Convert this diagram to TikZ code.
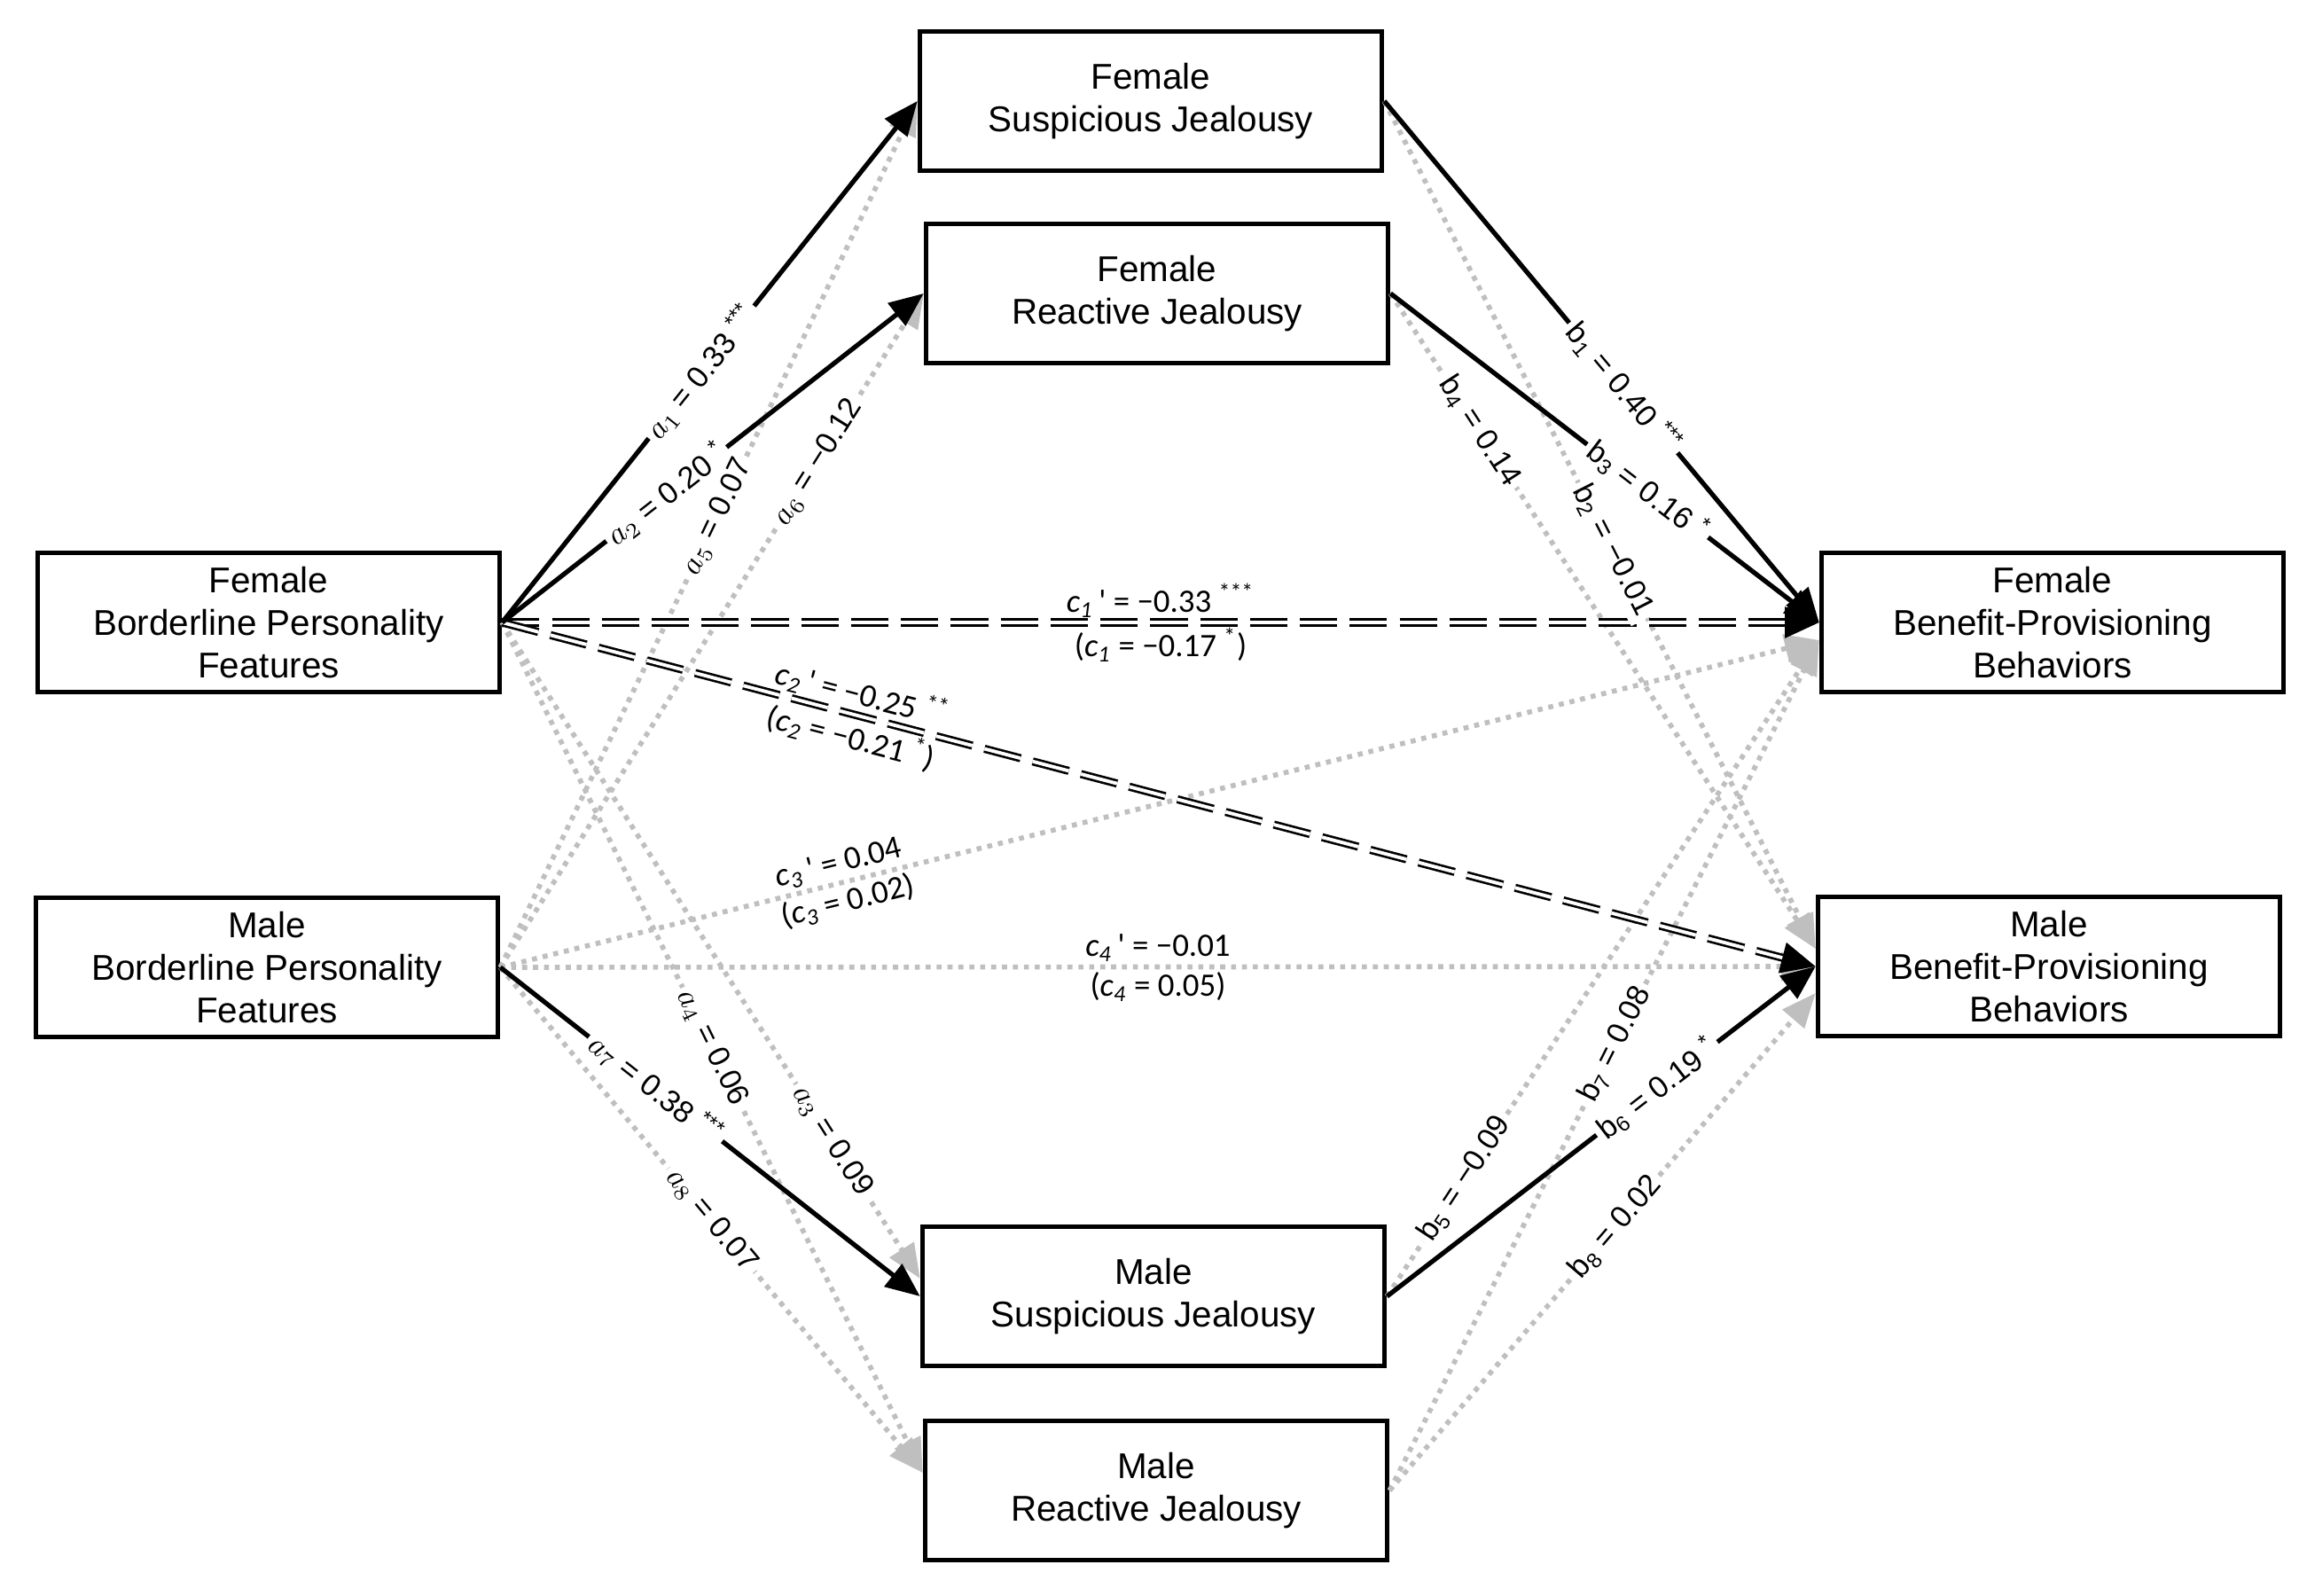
\documentclass[tikz,border=0pt]{standalone}
\usepackage{fontspec}
\setmainfont{Liberation Sans}
\newfontfamily\clabfamily{Carlito}
\usetikzlibrary{arrows.meta}
\definecolor{nsgray}{RGB}{191,191,191}
\tikzset{
    box/.style={draw, line width=1.6pt, minimum width=5.21cm, minimum height=1.57cm, align=center, font=\fontsize{11.5}{13.7}\selectfont},
    sig/.style={line width=1.5pt, -{Triangle[length=11pt,width=9pt]}},
    ns/.style={nsgray, line width=1.6pt, dash pattern=on 1.6pt off 1.9pt, -{Triangle[length=11pt,width=9pt]}},
    direct/.style={line width=0.75pt, double distance=1.1pt, dash pattern=on 12pt off 4pt, -{Triangle[length=11pt,width=10pt]}},
    lab/.style={sloped, fill=white, inner sep=1.5pt, text=black, font=\fontsize{9.8}{11}\selectfont},
    clab/.style={sloped, inner sep=1.5pt, text=black, font=\clabfamily\fontsize{10.5}{12}\selectfont}
}
\begin{document}
\begin{tikzpicture}
    \useasboundingbox (0,0) rectangle (26.02,-17.99);
    % boxes
    \node[box] (fbpf) at (3.03,-7.02) {Female\\Borderline Personality\\Features};
    \node[box] (mbpf) at (3.01,-10.91) {Male\\Borderline Personality\\Features};
    \node[box] (fsj) at (12.98,-1.14) {Female\\Suspicious Jealousy};
    \node[box] (frj) at (13.05,-3.31) {Female\\Reactive Jealousy};
    \node[box] (msj) at (13.01,-14.62) {Male\\Suspicious Jealousy};
    \node[box] (mrj) at (13.04,-16.81) {Male\\Reactive Jealousy};
    \node[box] (fbpb) at (23.15,-7.02) {Female\\Benefit-Provisioning\\Behaviors};
    \node[box] (mbpb) at (23.11,-10.90) {Male\\Benefit-Provisioning\\Behaviors};

    % non-significant paths
    \draw[ns] (fbpf.east) -- ([yshift=2mm]msj.west);
    \draw[ns] (fbpf.east) -- ([yshift=2mm]mrj.west);
    \draw[ns] (mbpf.east) -- (fsj.west);
    \draw[ns] (mbpf.east) -- (frj.west);
    \draw[ns] (mbpf.east) -- ([yshift=2mm]mrj.west);
    \draw[ns] (fsj.east) -- ([yshift=2mm]mbpb.west);
    \draw[ns] (frj.east) -- ([yshift=2mm]mbpb.west);
    \draw[ns] (msj.east) -- ([yshift=-2mm]fbpb.west);
    \draw[ns] (mrj.east) -- ([yshift=-2mm]fbpb.west);
    \draw[ns] (mrj.east) -- ([yshift=-3mm]mbpb.west);
    \draw[ns] (mbpf.east) -- ([yshift=-2mm]fbpb.west);
    \draw[ns] (mbpf.east) -- (mbpb.west);

    % significant paths
    \draw[direct] (fbpf.east) -- (fbpb.west);
    \draw[direct] (fbpf.east) -- (mbpb.west);
    \draw[sig] (fbpf.east) -- (fsj.west);
    \draw[sig] (fbpf.east) -- (frj.west);
    \draw[sig] (mbpf.east) -- (msj.west);
    \draw[sig] (fsj.east) -- (fbpb.west);
    \draw[sig] (frj.east) -- (fbpb.west);
    \draw[sig] (msj.east) -- (mbpb.west);

    % labels
    \path (fbpf.east) -- (fsj.west) node[lab,pos=.48] {$a_1$ = 0.33 \textsuperscript{***}};
    \path (fbpf.east) -- (frj.west) node[lab,pos=.39] {$a_2$ = 0.20 \textsuperscript{*}};
    \path (fbpf.east) -- ([yshift=2mm]msj.west) node[lab,pos=.79] {$a_3$ = 0.09};
    \path (fbpf.east) -- ([yshift=2mm]mrj.west) node[lab,pos=.5] {$a_4$ = 0.06};
    \path (mbpf.east) -- (fsj.west) node[lab,pos=.52] {$a_5$ = 0.07};
    \path (mbpf.east) -- (frj.west) node[lab,pos=.75] {$a_6$ = −0.12};
    \path (mbpf.east) -- (msj.west) node[lab,pos=.37] {$a_7$ = 0.38 \textsuperscript{***}};
    \path (mbpf.east) -- ([yshift=2mm]mrj.west) node[lab,pos=.5] {$a_8$ = 0.07};
    \path (fsj.east) -- (fbpb.west) node[lab,pos=.55] {b\textsubscript{1} = 0.40 \textsuperscript{***}};
    \path (fsj.east) -- ([yshift=2mm]mbpb.west) node[lab,pos=.53] {b\textsubscript{2} = −0.01};
    \path (frj.east) -- (fbpb.west) node[lab,pos=.6] {b\textsubscript{3} = 0.16 \textsuperscript{*}};
    \path (frj.east) -- ([yshift=2mm]mbpb.west) node[lab,pos=.21] {b\textsubscript{4} = 0.14};
    \path (msj.east) -- ([yshift=-2mm]fbpb.west) node[lab,pos=.18] {b\textsubscript{5} = −0.09};
    \path (msj.east) -- (mbpb.west) node[lab,pos=.63] {b\textsubscript{6} = 0.19 \textsuperscript{*}};
    \path (mrj.east) -- ([yshift=-2mm]fbpb.west) node[lab,pos=.525] {b\textsubscript{7} = 0.08};
    \path (mrj.east) -- ([yshift=-3mm]mbpb.west) node[lab,pos=.53] {b\textsubscript{8} = 0.02};
    \path (fbpf.east) -- (fbpb.west)
        node[clab,midway,above] {\textit{c}\textsubscript{\textit{1}}\,' = −0.33 \textsuperscript{***}}
        node[clab,midway,below] {(\textit{c}\textsubscript{\textit{1}} = −0.17 \textsuperscript{*})};
    \path (fbpf.east) -- (mbpb.west)
        node[clab,pos=.27,above] {\textit{c}\textsubscript{\textit{2}}\,' = −0.25 \textsuperscript{**}}
        node[clab,pos=.27,below] {(\textit{c}\textsubscript{\textit{2}} = −0.21 \textsuperscript{*})};
    \path (mbpf.east) -- ([yshift=-2mm]fbpb.west)
        node[clab,pos=.26,above] {\textit{c}\textsubscript{\textit{3}}\,' = 0.04}
        node[clab,pos=.26,below] {(\textit{c}\textsubscript{\textit{3}} = 0.02)};
    \path (mbpf.east) -- (mbpb.west)
        node[clab,midway,above] {\textit{c}\textsubscript{\textit{4}}\,' = −0.01}
        node[clab,midway,below] {(\textit{c}\textsubscript{\textit{4}} = 0.05)};
\end{tikzpicture}
\end{document}
